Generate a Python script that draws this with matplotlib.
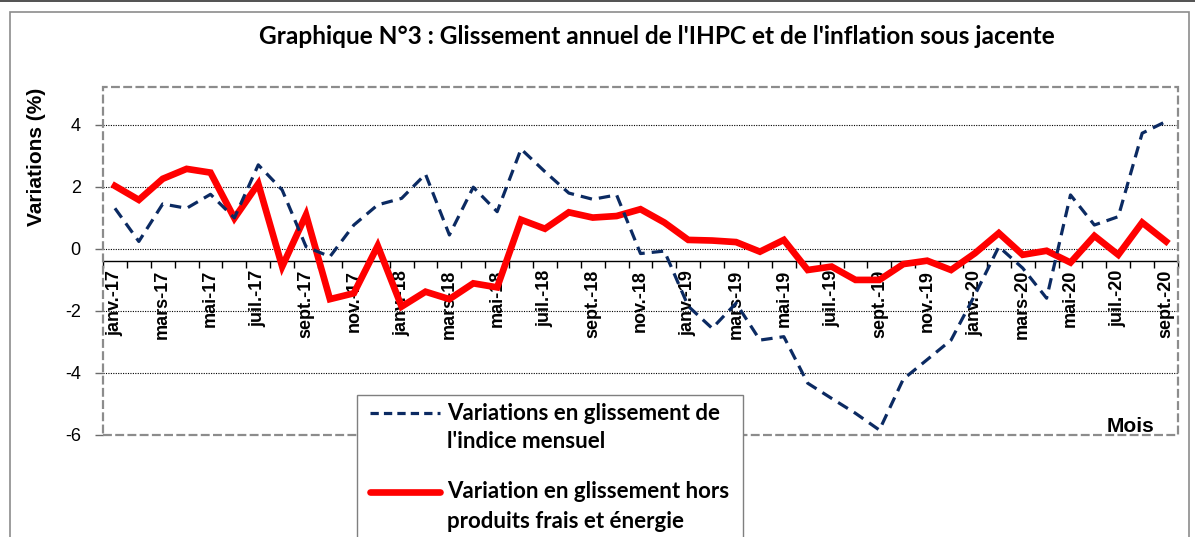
import matplotlib
matplotlib.use('Agg')
import matplotlib.pyplot as plt
import numpy as np
from matplotlib.patches import Rectangle
from matplotlib.lines import Line2D

# ---------------- data ----------------
months = ["janv.-17", "févr.-17", "mars-17", "avr.-17", "mai-17", "juin-17", "juil.-17", "août-17",
          "sept.-17", "oct.-17", "nov.-17", "déc.-17",
          "janv.-18", "févr.-18", "mars-18", "avr.-18", "mai-18", "juin-18", "juil.-18", "août-18",
          "sept.-18", "oct.-18", "nov.-18", "déc.-18",
          "janv.-19", "févr.-19", "mars-19", "avr.-19", "mai-19", "juin-19", "juil.-19", "août-19",
          "sept.-19", "oct.-19", "nov.-19", "déc.-19",
          "janv.-20", "févr.-20", "mars-20", "avr.-20", "mai-20", "juin-20", "juil.-20", "août-20",
          "sept.-20"]

ihpc = [1.31, 0.24, 1.45, 1.31, 1.76, 1.00, 2.71, 1.90, 0.07, -0.25, 0.77, 1.42,
        1.63, 2.41, 0.45, 1.99, 1.20, 3.22, 2.49, 1.80, 1.60, 1.74, -0.15, -0.07,
        -1.85, -2.56, -1.75, -2.94, -2.83, -4.33, -4.82, -5.30, -5.84, -4.20, -3.57, -2.94,
        -1.48, 0.07, -0.62, -1.59, 1.74, 0.77, 1.04, 3.73, 4.11]

core = [2.03, 1.58, 2.26, 2.58, 2.46, 0.99, 2.10, -0.57, 1.10, -1.62, -1.43, 0.10,
        -1.86, -1.38, -1.62, -1.11, -1.24, 0.94, 0.65, 1.18, 1.01, 1.06, 1.28, 0.85,
        0.29, 0.27, 0.22, -0.09, 0.29, -0.68, -0.57, -1.00, -1.00, -0.49, -0.38, -0.68,
        -0.14, 0.51, -0.19, -0.06, -0.44, 0.42, -0.19, 0.85, 0.24]

yticks = [-6, -4, -2, 0, 2, 4]
gridvals = [-4, -2, 0, 2, 4]
title = "Graphique N°3 : Glissement annuel de l'IHPC et de l'inflation sous jacente"
ylabel = "Variations (%)"
xlabel = "Mois"
name_ihpc = ["Variations en glissement de", "l'indice mensuel"]
name_core = ["Variation en glissement hors", "produits frais et énergie"]

# ---------------- layout helpers ----------------
W, H = 1195, 537
fig = plt.figure(figsize=(W / 100, H / 100), dpi=100)


def fx(x):
    return x / W


def fy(y):
    return 1 - y / H


NAVY = '#0B2A62'
RED = '#FF0000'
GREY = '#8C8C8C'
ARIAL = 'Liberation Sans'
CAL = 'Lato'

ax = fig.add_axes([fx(103), fy(435), fx(1178) - fx(103), fy(87) - fy(435)])
x = np.arange(len(months))

ax.plot(x, core, color=RED, lw=4.8, solid_joinstyle='miter', zorder=3)
ax.plot(x, ihpc, color=NAVY, lw=2.3, dashes=(3.6, 2.2), dash_capstyle='butt', zorder=4)

ax.set_xlim(-0.5, len(months) - 0.5)
ax.set_ylim(-6, 5.22)

for v in gridvals:
    ax.axhline(v, color='black', lw=0.8, ls=(0, (1, 1.2)), zorder=1)

for s in ['top', 'right', 'left']:
    ax.spines[s].set_visible(False)
ax.spines['bottom'].set_position(('data', -0.4))
ax.spines['bottom'].set_color('black')
ax.spines['bottom'].set_linewidth(1.0)
ax.spines['bottom'].set_zorder(2)

ax.set_xticks(np.arange(-0.5, len(months), 1), minor=True)
ax.set_xticks(x[::2])
ax.set_xticklabels(months[::2], rotation=90, fontweight='bold', fontsize=13, family=ARIAL)
ax.tick_params(axis='x', which='minor', length=5, width=1, color='black', direction='out')
ax.tick_params(axis='x', which='major', length=0, pad=6)

ax.set_yticks(yticks)
ax.set_yticklabels([str(v) for v in yticks], fontsize=13, family=ARIAL)
ax.tick_params(axis='y', length=6, width=1, color='#6b6b6b', pad=10)

# plot-area dashed border
ax.add_patch(Rectangle((0, 0), 1, 1, transform=ax.transAxes, fill=False, ec=GREY,
                       lw=1.6, ls=(0, (4, 1.5)), clip_on=False, zorder=5))

# titles
fig.text(fx(657), fy(37), title, ha='center', va='center', fontsize=17.6,
         fontweight='bold', family=CAL)
fig.text(fx(36), fy(157), ylabel, rotation=90, ha='center', va='center',
         fontsize=15, fontweight='bold', family=ARIAL)
fig.text(fx(1130), fy(426), xlabel, ha='center', va='center', fontsize=15,
         fontweight='bold', family=ARIAL, zorder=6)

# outer chart border
fig.patches.append(Rectangle((fx(10), fy(600)), fx(1189) - fx(10), fy(12) - fy(600),
                             transform=fig.transFigure, fill=False, ec=GREY, lw=1.2))
fig.lines.append(Line2D([0, 1], [fy(0.5), fy(0.5)], transform=fig.transFigure,
                        color='#333333', lw=1.2))

# legend (manual)
fig.patches.append(Rectangle((fx(357), fy(600)), fx(743) - fx(357), fy(395) - fy(600),
                             transform=fig.transFigure, fc='white', ec='#7f7f7f',
                             lw=1.0, zorder=10))
fig.lines.append(Line2D([fx(370), fx(440)], [fy(413), fy(413)], transform=fig.transFigure,
                        color=NAVY, lw=2.3, dashes=(2.6, 1.6), zorder=11))
fig.lines.append(Line2D([fx(370), fx(440)], [fy(492), fy(492)], transform=fig.transFigure,
                        color=RED, lw=4.8, solid_capstyle='round', zorder=11))
for i, line in enumerate(name_ihpc):
    fig.text(fx(447), fy(413 + 29 * i), line, ha='left', va='center', fontsize=16,
             fontweight='bold', family=CAL, zorder=12)
for i, line in enumerate(name_core):
    fig.text(fx(447), fy(492 + 29 * i), line, ha='left', va='center', fontsize=16,
             fontweight='bold', family=CAL, zorder=12)

fig.savefig('out.png', dpi=100)
